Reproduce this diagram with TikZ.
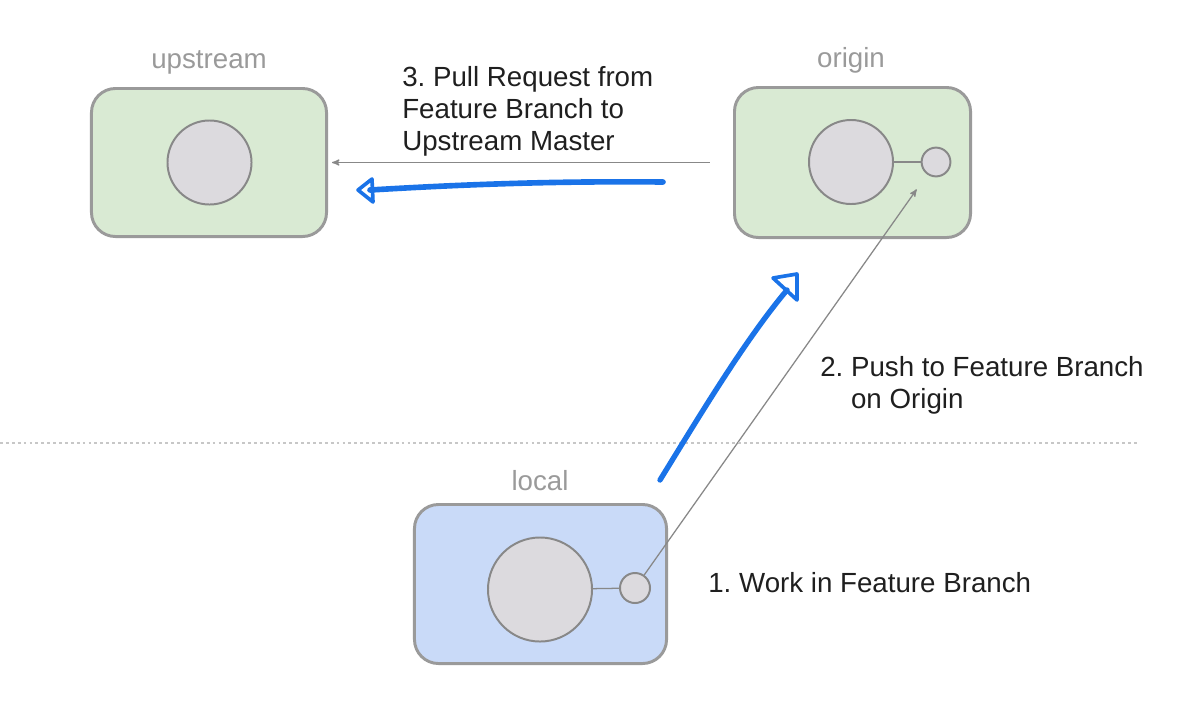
\documentclass[tikz,border=0pt]{standalone}
\usepackage{fontspec}
\setmainfont{Liberation Sans}
\usetikzlibrary{arrows,positioning}
\definecolor{boxline}{HTML}{9A9A9A}
\definecolor{remotefill}{HTML}{D9EAD3}
\definecolor{localfill}{HTML}{C9DAF8}
\definecolor{commitfill}{HTML}{DCDADE}
\definecolor{commitline}{HTML}{888888}
\definecolor{ink}{HTML}{1A73E8}
\definecolor{caption}{HTML}{9A9A9A}
\tikzset{
  repo/.style={rectangle,rounded corners=0.6cm,draw=boxline,line width=2.1pt,inner sep=0pt},
  commit/.style={circle,draw=commitline,fill=commitfill,line width=1.4pt,inner sep=0pt},
  reponame/.style={text=caption,anchor=base,inner sep=0pt},
  steptext/.style={text=black!88,anchor=north west,inner sep=0pt,align=left},
  flow/.style={->,>=stealth',color=commitline,line width=0.9pt},
  handdrawn/.style={draw=ink,line cap=round,line join=round}
}
\frenchspacing

\begin{document}
\begin{tikzpicture}[x=0.025cm,y=-0.025cm,font=\fontsize{19.7}{22.8}\selectfont]
\useasboundingbox (0,0) rectangle (1188,706);
% \draw[help lines,step=50] (0,0) grid (1188,706);
\node (up) [repo,fill=remotefill,minimum width=5.875cm,minimum height=3.7cm] at (209,162.5) {};
\node (org) [repo,fill=remotefill,minimum width=5.9cm,minimum height=3.75cm] at (852.5,162.5) {};
\node (loc) [repo,fill=localfill,minimum width=6.3cm,minimum height=3.975cm] at (540.5,584) {};
%
\node (upname) [reponame] at (209,68) {upstream};
\node (orgname) [reponame] at (851,67) {origin};
\node (locname) [reponame] at (540,490) {local};
%
\node (upmaster) [commit,minimum size=2.1cm] at (209.5,162.5) {};
\node (orgmaster) [commit,minimum size=2.1cm] at (851,162) {};
\node (orgfeat) [commit,minimum size=0.72cm] at (936,162) {};
\node (locmaster) [commit,minimum size=2.6cm] at (540,589.5) {};
\node (locfeat) [commit,minimum size=0.75cm] at (635,588) {};
\path[color=commitline,line width=0.9pt] (orgmaster) edge (orgfeat);
\path[color=commitline,line width=0.9pt] (locmaster) edge (locfeat);
%
\path[flow,shorten <=0.575cm,shorten >=0.1cm] (org.west) edge (up.east);
\path[flow,shorten >=0.45cm] (locfeat) edge (orgfeat);
%
\node (pulltext) [steptext] at (402,66) {3. Pull Request from\\Feature Branch to\\Upstream Master};
\node (pushtext) [steptext] at (820,356) {2. Push to Feature Branch\\\hphantom{2. }on Origin};
\node (worktext) [steptext,anchor=base west] at (708,592) {1. Work in Feature Branch};
%
\coordinate (sepleft) at (0,443);
\coordinate (sepright) at (1138,443);
\draw[black!22,line width=0.8pt,dash pattern=on 2pt off 2.2pt] (sepleft) -- (sepright);
%
\coordinate (pulltail) at (663,182);
\coordinate (pullhead) at (370,190);
\coordinate (pushtail) at (660,480);
\coordinate (pushhead) at (787,290);
\draw[handdrawn,line width=4pt] (pulltail) .. controls (560,181) and (470,184) .. (pullhead);
\draw[handdrawn,line width=2.6pt] (pullhead) ++(2,-11) -- ++(-14,11) -- ++(15,12) -- cycle;
\draw[handdrawn,line width=3.8pt] (pushtail) .. controls (700,415) and (745,340) .. (pushhead);
\draw[handdrawn,line width=2.6pt] (pushhead) ++(-14,-12) -- ++(24,-4) -- ++(0,26) -- cycle;
\end{tikzpicture}
\end{document}
